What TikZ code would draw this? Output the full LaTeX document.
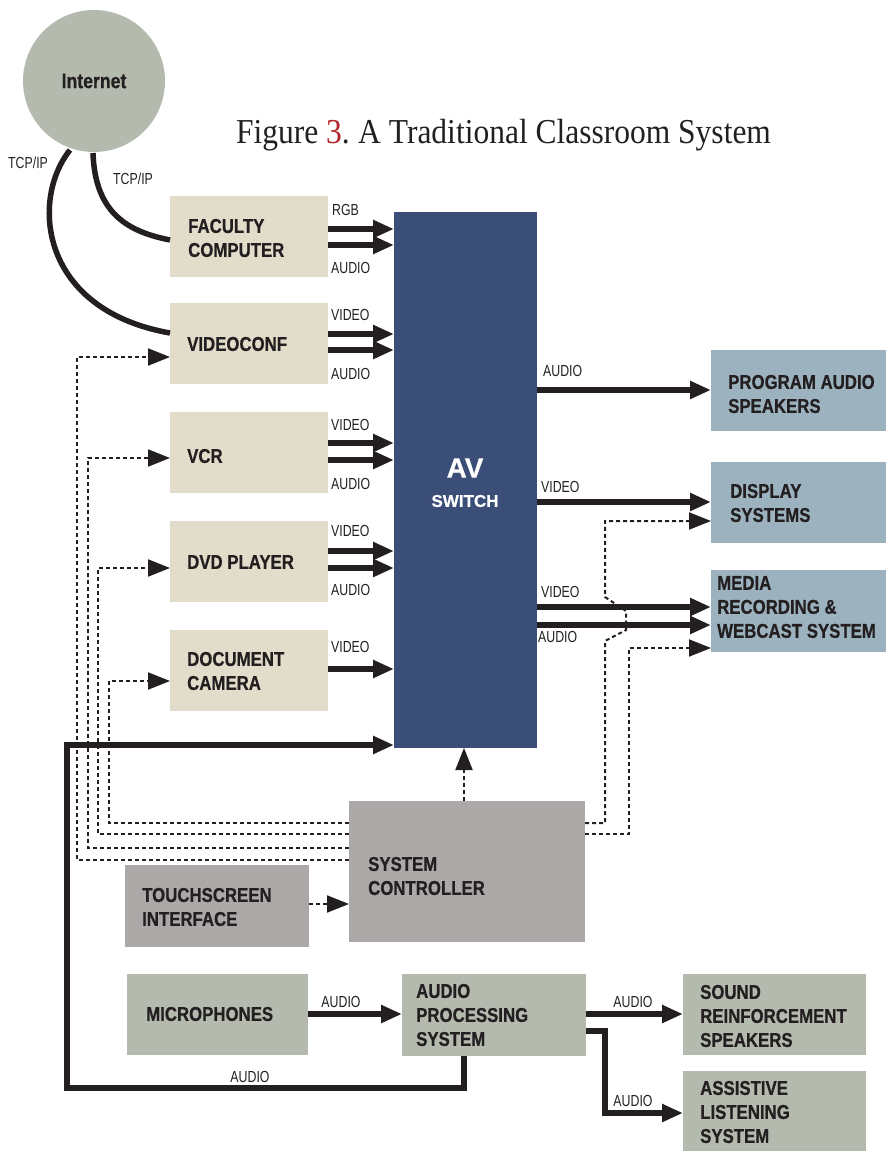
\documentclass[tikz,border=0pt]{standalone}
\usepackage{fontspec}
\usetikzlibrary{arrows.meta,calc}
\newfontfamily\bxf[FakeStretch=0.84,FakeBold=0.6]{Liberation Sans Bold}
\newfontfamily\sgf[FakeStretch=0.77]{Liberation Sans}
\newfontfamily\avf[FakeBold=0.5]{Liberation Sans Bold}
\newfontfamily\ttlf[FakeStretch=0.9]{Liberation Serif}
\definecolor{beige}{HTML}{E2DCCB}
\definecolor{navy}{HTML}{3A4E77}
\definecolor{bluegrey}{HTML}{9CB3BF}
\definecolor{ctrlgrey}{HTML}{ACA8A7}
\definecolor{sage}{HTML}{B4BAAE}
\definecolor{ink}{HTML}{231F20}
\definecolor{redthree}{HTML}{B0252A}
\begin{document}
\begin{tikzpicture}[x=1pt,y=-1pt,
  bx/.style={inner sep=0pt, outer sep=0pt, anchor=north west},
  src/.style={bx, fill=beige, minimum width=158pt, minimum height=81pt},
  outb/.style={bx, fill=bluegrey, minimum width=175pt, minimum height=81pt},
  aud/.style={bx, fill=sage, minimum width=183pt, minimum height=81pt},
  lbl/.style={font=\bxf\fontsize{20}{24}\selectfont, text=ink, align=left, anchor=west, inner sep=0pt},
  sig/.style={font=\sgf\fontsize{16}{18}\selectfont, text=ink, inner sep=0pt},
  sigl/.style={sig, anchor=west},
  fat/.style={draw=ink, line width=5.5pt, -{Triangle[length=21pt,width=17pt]}},
  ctl/.style={draw=ink, line width=2pt, dash pattern=on 4pt off 3pt, -{Triangle[length=22pt,width=17pt]}},
  wire/.style={draw=ink, line width=5.5pt}
]
\useasboundingbox (0,0) rectangle (886,1152);

% title
\node[font=\ttlf\fontsize{35}{38}\selectfont, text=ink, anchor=base, inner sep=0pt] (title) at (503.5,143)
  {Figure \textcolor{redthree}{3}.\kern-2pt{} A Traditional Classroom System};

% internet
\node[circle, fill=sage, minimum size=142pt, inner sep=0pt, font=\bxf\fontsize{21}{24}\selectfont, text=ink] (inet) at (94,81) {Internet};

% sources
\node[src] (fc) at (170,196) {};
\node[src] (vc) at (170,303) {};
\node[src] (vcr) at (170,412) {};
\node[src] (dvd) at (170,521) {};
\node[src] (dc) at (170,630) {};
\node[lbl] (fct) at (188,238) {FACULTY\\COMPUTER};
\node[lbl] (vct) at (187,344) {VIDEOCONF};
\node[lbl] (vcrt) at (187,456) {VCR};
\node[lbl] (dvdt) at (187,562) {DVD PLAYER};
\node[lbl] (dct) at (187,671) {DOCUMENT\\CAMERA};

% AV switch
\node[bx, fill=navy, minimum width=143pt, minimum height=536pt] (av) at (394,212) {};
\node[font=\avf\fontsize{28}{30}\selectfont, text=white, inner sep=0pt] (avt) at (465,468) {AV};
\node[font=\avf\fontsize{17}{20}\selectfont, text=white, inner sep=0pt] (avs) at (465,501) {SWITCH};

% outputs
\node[outb] (pa) at (711,350) {};
\node[outb] (ds) at (711,462) {};
\node[outb, minimum height=82pt] (mr) at (711,570) {};
\node[lbl] (pat) at (728,394) {PROGRAM AUDIO\\SPEAKERS};
\node[lbl] (dst) at (730,503) {DISPLAY\\SYSTEMS};
\node[lbl] (mrt) at (717,607) {MEDIA\\RECORDING \&\\WEBCAST SYSTEM};

% controller
\node[bx, fill=ctrlgrey, minimum width=236pt, minimum height=141pt] (sc) at (349,801) {};
\node[lbl] (sct) at (368,876) {SYSTEM\\CONTROLLER};
\node[bx, fill=ctrlgrey, minimum width=184pt, minimum height=82pt] (ts) at (125,865) {};
\node[lbl] (tst) at (142,907) {TOUCHSCREEN\\INTERFACE};

% audio chain
\node[aud, minimum width=181pt] (mic) at (127,974) {};
\node[aud, minimum width=184pt, minimum height=82pt] (ap) at (402,974) {};
\node[aud] (sr) at (683,974) {};
\node[aud, minimum height=80pt] (al) at (683,1071) {};
\node[lbl] (mict) at (146,1014) {MICROPHONES};
\node[lbl] (apt) at (416,1015) {AUDIO\\PROCESSING\\SYSTEM};
\node[lbl] (srt) at (700,1016) {SOUND\\REINFORCEMENT\\SPEAKERS};
\node[lbl] (alt) at (700,1112) {ASSISTIVE\\LISTENING\\SYSTEM};

% internet links
\draw[wire] (93,153) .. controls (95,215) and (130,232) .. (fc.west |- 0,240);
\draw[wire] (70,150) .. controls (30,200) and (40,310) .. (vc.west |- 0,333);
\node[sigl] (tcp1) at (8,163) {TCP/IP};
\node[sigl] (tcp2) at (113,179) {TCP/IP};

% source -> AV
\draw[fat] (fc.east |- 0,229) -- (av.west |- 0,229);
\draw[fat] (fc.east |- 0,245) -- (av.west |- 0,245);
\draw[fat] (vc.east |- 0,334) -- (av.west |- 0,334);
\draw[fat] (vc.east |- 0,350) -- (av.west |- 0,350);
\draw[fat] (vcr.east |- 0,443) -- (av.west |- 0,443);
\draw[fat] (vcr.east |- 0,460) -- (av.west |- 0,460);
\draw[fat] (dvd.east |- 0,551) -- (av.west |- 0,551);
\draw[fat] (dvd.east |- 0,568) -- (av.west |- 0,568);
\draw[fat] (dc.east |- 0,669) -- (av.west |- 0,669);
\node[sigl] (l1) at (332,210) {RGB};
\node[sigl] (l2) at (331,268) {AUDIO};
\node[sigl] (l3) at (331,315) {VIDEO};
\node[sigl] (l4) at (331,374) {AUDIO};
\node[sigl] (l5) at (331,425) {VIDEO};
\node[sigl] (l6) at (331,484) {AUDIO};
\node[sigl] (l7) at (331,531) {VIDEO};
\node[sigl] (l8) at (331,590) {AUDIO};
\node[sigl] (l9) at (331,647) {VIDEO};

% AV -> outputs
\draw[fat] (av.east |- 0,390) -- (pa.west |- 0,390);
\draw[fat] (av.east |- 0,502) -- (ds.west |- 0,502);
\draw[fat] (av.east |- 0,607) -- (mr.west |- 0,607);
\draw[fat] (av.east |- 0,625) -- (mr.west |- 0,625);
\node[sigl] (r1) at (543,371) {AUDIO};
\node[sigl] (r2) at (541,487) {VIDEO};
\node[sigl] (r3) at (541,592) {VIDEO};
\node[sigl] (r4) at (538,637) {AUDIO};

% control lines
\draw[ctl] (sc.north -| 464,0) -- (av.south -| 464,0);
\draw[ctl] (sc.west |- 0,823) -- (109,823) -- (109,681) -- (dc.west |- 0,681);
\draw[ctl] (sc.west |- 0,834) -- (98,834) -- (98,568) -- (dvd.west |- 0,568);
\draw[ctl] (sc.west |- 0,848) -- (88,848) -- (88,458) -- (vcr.west |- 0,458);
\draw[ctl] (sc.west |- 0,860) -- (77,860) -- (77,357) -- (vc.west |- 0,357);
\draw[ctl] (ts.east |- 0,904) -- (sc.west |- 0,904);
\draw[ctl] (sc.east |- 0,823) -- (605,823) -- (605,641) -- (626,630) -- (626,611) -- (605,597) -- (605,521) -- (ds.west |- 0,521);
\draw[ctl] (sc.east |- 0,834) -- (629,834) -- (629,648) -- (mr.west |- 0,648);

% audio wiring
\draw[fat] (mic.east |- 0,1014) -- (ap.west |- 0,1014);
\draw[fat] (ap.east |- 0,1014) -- (sr.west |- 0,1014);
\draw[fat, line join=miter] (ap.east |- 0,1031) -- (605,1031) -- (605,1113) -- (al.west |- 0,1113);
\draw[fat, line join=miter] (ap.south -| 464,0) -- (464,1088) -- (67,1088) -- (67,745) -- (av.west |- 0,745);
\node[sig] (b1) at (341,1002) {AUDIO};
\node[sig] (b2) at (633,1002) {AUDIO};
\node[sig] (b3) at (633,1101) {AUDIO};
\node[sig] (b4) at (250,1077) {AUDIO};
\end{tikzpicture}
\end{document}
